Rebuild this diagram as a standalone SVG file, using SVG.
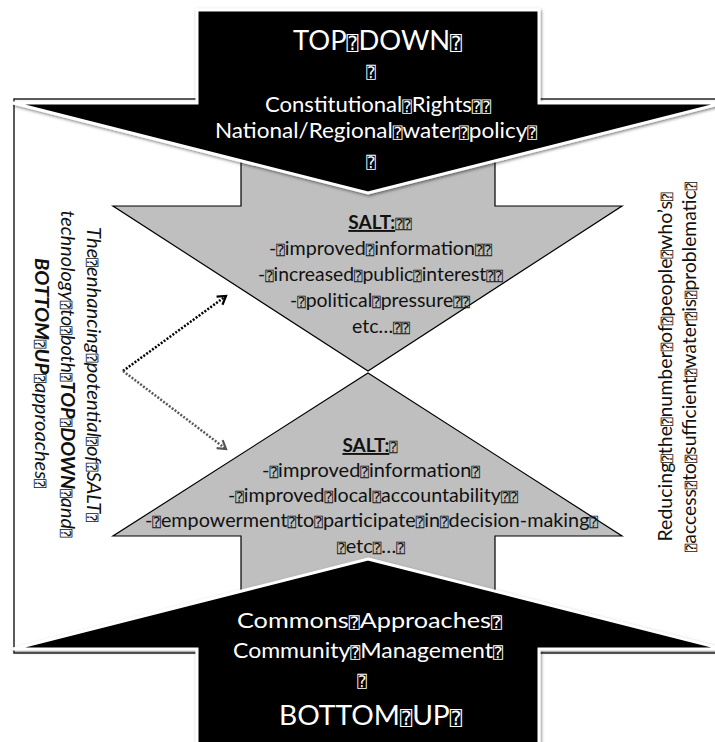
<svg xmlns="http://www.w3.org/2000/svg" width="715" height="742" viewBox="0 0 715 742">
<defs>
<style>
.f{font-family:Lato,"Open Sans","DejaVu Sans",sans-serif}
.w{fill:#fff}
.k{fill:#111}
.q{font-family:"DejaVu Sans","DejaVu Sans Mono",monospace;font-size:0.72em;font-weight:normal;font-style:normal;text-decoration:none}
.blk{fill:#000;stroke:#fff;stroke-width:3;filter:url(#sh)}
.gry{fill:#bfbfbf;stroke:#000;stroke-width:1.2}
.frame{fill:none;stroke:#333;stroke-width:1.6}
.dot{fill:none;stroke-width:2.5;stroke-dasharray:2 1.6}
.b{font-weight:bold}
.u{font-weight:bold;text-decoration:underline}
</style>
<filter id="sh" x="-5%" y="-5%" width="110%" height="115%">
<feDropShadow dx="1" dy="1.5" stdDeviation="1.8" flood-color="#000" flood-opacity="0.5"/>
</filter>
<marker id="ahK" markerUnits="userSpaceOnUse" markerWidth="14" markerHeight="14" refX="10" refY="7" orient="auto">
<path d="M2,2 L10,7 L2,12" fill="none" stroke="#000" stroke-width="2.2"/>
</marker>
<marker id="ahG" markerUnits="userSpaceOnUse" markerWidth="14" markerHeight="14" refX="10" refY="7" orient="auto">
<path d="M2,2 L10,7 L2,12" fill="none" stroke="#555" stroke-width="2.2"/>
</marker>
</defs>
<rect width="715" height="742" fill="#fff"/>
<g id="outer-frame"><rect class="frame" x="14" y="99" width="710" height="554"/></g>
<g id="salt-top">
<polygon class="gry" points="241,120 495,120 495,206 622,206 368,371 113,206 241,206"/>
<text class="f k" text-anchor="middle" font-size="19">
<tspan x="380" y="229" class="u">SALT:</tspan><tspan class="q">⍰⍰</tspan>
</text>
<text class="f k" text-anchor="middle" font-size="19" x="380.5" y="255" textLength="223" lengthAdjust="spacingAndGlyphs">-<tspan class="q">⍰</tspan>improved<tspan class="q">⍰</tspan>information<tspan class="q">⍰⍰</tspan></text>
<text class="f k" text-anchor="middle" font-size="19" x="380.5" y="281" textLength="245" lengthAdjust="spacingAndGlyphs">-<tspan class="q">⍰</tspan>increased<tspan class="q">⍰</tspan>public<tspan class="q">⍰</tspan>interest<tspan class="q">⍰⍰</tspan></text>
<text class="f k" text-anchor="middle" font-size="19" x="380" y="307" textLength="180" lengthAdjust="spacingAndGlyphs">-<tspan class="q">⍰</tspan>political<tspan class="q">⍰</tspan>pressure<tspan class="q">⍰⍰</tspan></text>
<text class="f k" text-anchor="middle" font-size="19" x="381" y="333" textLength="58" lengthAdjust="spacingAndGlyphs">etc…<tspan class="q">⍰⍰</tspan></text>
</g>
<g id="salt-bottom">
<polygon class="gry" points="368,373 622,536 495,536 495,630 241,630 241,536 113,536"/>
<text class="f k" text-anchor="middle" font-size="19">
<tspan x="370" y="452" class="u">SALT:</tspan><tspan class="q">⍰</tspan>
</text>
<text class="f k" text-anchor="middle" font-size="19" x="371" y="477" textLength="218" lengthAdjust="spacingAndGlyphs">-<tspan class="q">⍰</tspan>improved<tspan class="q">⍰</tspan>information<tspan class="q">⍰</tspan></text>
<text class="f k" text-anchor="middle" font-size="19" x="373" y="502" textLength="290" lengthAdjust="spacingAndGlyphs">-<tspan class="q">⍰</tspan>improved<tspan class="q">⍰</tspan>local<tspan class="q">⍰</tspan>accountability<tspan class="q">⍰⍰</tspan></text>
<text class="f k" text-anchor="middle" font-size="19" x="371.5" y="527" textLength="453" lengthAdjust="spacingAndGlyphs">-<tspan class="q">⍰</tspan>empowerment<tspan class="q">⍰</tspan>to<tspan class="q">⍰</tspan>participate<tspan class="q">⍰</tspan>in<tspan class="q">⍰</tspan>decision-making<tspan class="q">⍰</tspan></text>
<text class="f k" text-anchor="middle" font-size="19" x="371" y="553" textLength="68" lengthAdjust="spacingAndGlyphs"><tspan class="q">⍰</tspan>etc<tspan class="q">⍰</tspan>…<tspan class="q">⍰</tspan></text>
</g>
<g id="top-down-arrow">
<polygon class="blk" points="197,10 539,10 539,103 723,103 368,193 13,103 197,103"/>
<text class="f w" text-anchor="middle" font-size="27" x="377.5" y="50" textLength="169" lengthAdjust="spacingAndGlyphs">TOP<tspan class="q">⍰</tspan>DOWN<tspan class="q">⍰</tspan></text>
<text class="f w" text-anchor="middle" font-size="22" x="371" y="78"><tspan class="q">⍰</tspan></text>
<text class="f w" text-anchor="middle" font-size="21" x="378" y="112" textLength="226" lengthAdjust="spacingAndGlyphs">Constitutional<tspan class="q">⍰</tspan>Rights<tspan class="q">⍰⍰</tspan></text>
<text class="f w" text-anchor="middle" font-size="21" x="376" y="138" textLength="322" lengthAdjust="spacingAndGlyphs">National/Regional<tspan class="q">⍰</tspan>water<tspan class="q">⍰</tspan>policy<tspan class="q">⍰</tspan></text>
<text class="f w" text-anchor="middle" font-size="22" x="371" y="168"><tspan class="q">⍰</tspan></text>
</g>
<g id="bottom-up-arrow">
<polygon class="blk" points="368,559 723,649 539,649 539,750 197,750 197,649 13,649"/>
<text class="f w" text-anchor="middle" font-size="21.5" x="369.5" y="628" textLength="265" lengthAdjust="spacingAndGlyphs">Commons<tspan class="q">⍰</tspan>Approaches<tspan class="q">⍰</tspan></text>
<text class="f w" text-anchor="middle" font-size="21.5" x="368" y="658" textLength="270" lengthAdjust="spacingAndGlyphs">Community<tspan class="q">⍰</tspan>Management<tspan class="q">⍰</tspan></text>
<text class="f w" text-anchor="middle" font-size="22" x="362" y="687"><tspan class="q">⍰</tspan></text>
<text class="f w" text-anchor="middle" font-size="27" x="370.5" y="725" textLength="183" lengthAdjust="spacingAndGlyphs">BOTTOM<tspan class="q">⍰</tspan>UP<tspan class="q">⍰</tspan></text>
</g>
<g id="left-label" class="f k" font-style="italic" font-size="19" text-anchor="middle" transform="translate(61,374) rotate(90)">
<text x="0.5" y="-26" textLength="295" lengthAdjust="spacingAndGlyphs">The<tspan class="q">⍰</tspan>enhancing<tspan class="q">⍰</tspan>potential<tspan class="q">⍰</tspan>of<tspan class="q">⍰</tspan>SALT<tspan class="q">⍰</tspan></text>
<text x="0" y="0" textLength="327" lengthAdjust="spacingAndGlyphs">technology<tspan class="q">⍰</tspan>to<tspan class="q">⍰</tspan>both<tspan class="q">⍰</tspan><tspan class="b">TOP</tspan><tspan class="q">⍰</tspan><tspan class="b">DOWN</tspan><tspan class="q">⍰</tspan>and<tspan class="q">⍰</tspan></text>
<text x="-1" y="26" textLength="230" lengthAdjust="spacingAndGlyphs"><tspan class="b">BOTTOM</tspan><tspan class="q">⍰</tspan><tspan class="b">UP</tspan><tspan class="q">⍰</tspan>approaches<tspan class="q">⍰</tspan></text>
</g>
<g id="right-label" class="f k" font-size="19" text-anchor="middle" transform="translate(684,367) rotate(-90)">
<text x="0" y="-12" textLength="349" lengthAdjust="spacingAndGlyphs">Reducing<tspan class="q">⍰</tspan>the<tspan class="q">⍰</tspan>number<tspan class="q">⍰</tspan>of<tspan class="q">⍰</tspan>people<tspan class="q">⍰</tspan>who’s<tspan class="q">⍰</tspan></text>
<text x="0" y="12" textLength="370" lengthAdjust="spacingAndGlyphs"><tspan class="q">⍰</tspan>access<tspan class="q">⍰</tspan>to<tspan class="q">⍰</tspan>sufficient<tspan class="q">⍰</tspan>water<tspan class="q">⍰</tspan>is<tspan class="q">⍰</tspan>problematic<tspan class="q">⍰</tspan></text>
</g>
<g id="connectors">
<line class="dot" x1="123" y1="371" x2="226" y2="296" stroke="#000" marker-end="url(#ahK)"/>
<line class="dot" x1="123" y1="371" x2="226" y2="449" stroke="#5a5a5a" marker-end="url(#ahG)"/>
</g>
</svg>
